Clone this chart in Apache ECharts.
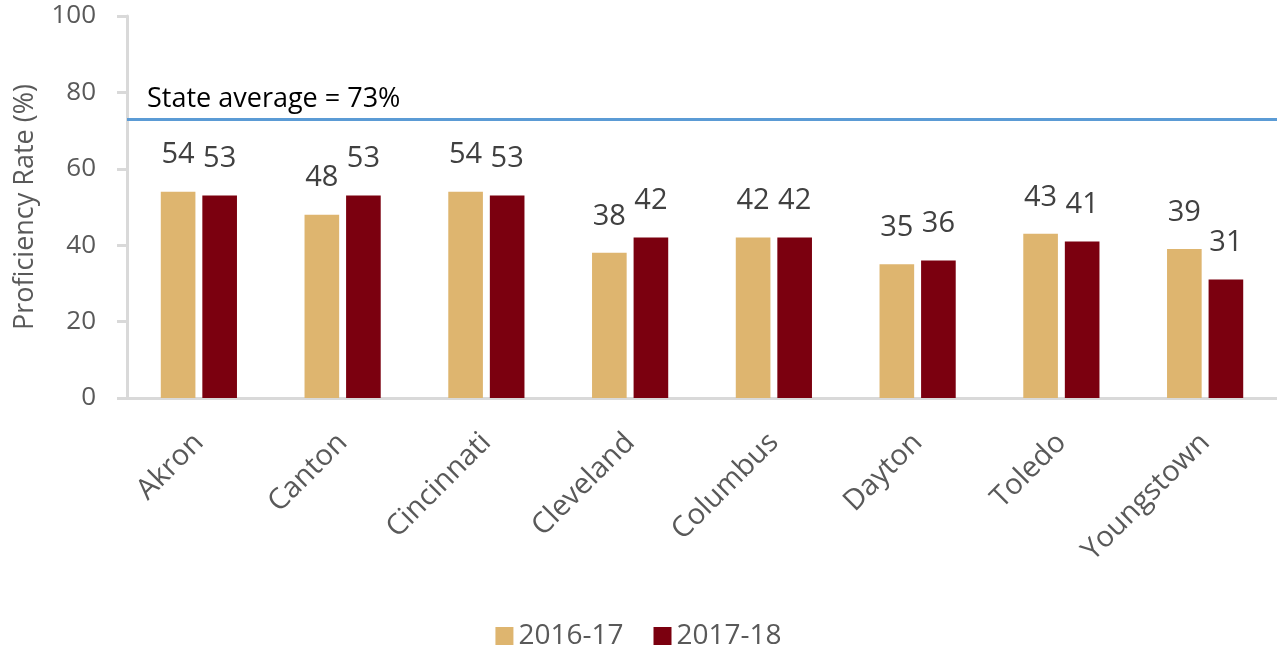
<!DOCTYPE html>
<html>
<head>
<meta charset="utf-8">
<title>Proficiency Rate by City</title>
<script src="https://cdn.jsdelivr.net/npm/echarts@6/dist/echarts.min.js"></script>
<style>
  html, body { margin: 0; padding: 0; background: #ffffff; }
  #chart { width: 1277px; height: 649px; }
</style>
</head>
<body>
<div id="chart"></div>
<script>
// Cities on the category axis
const cities = ['Akron', 'Canton', 'Cincinnati', 'Cleveland', 'Columbus', 'Dayton', 'Toledo', 'Youngstown'];
// Proficiency rates (%) per school year
const rates201617 = [54, 48, 54, 38, 42, 35, 43, 39];
const rates201718 = [53, 53, 53, 42, 42, 36, 41, 31];
// Statewide reference value (%)
const stateAverage = 73;
// Value axis ticks
const yTicks = { min: 0, max: 100, interval: 20 };

const FONT = '"Open Sans", sans-serif';
const GREY_TEXT = '#595959';
const AXIS_GREY = '#d9d9d9';

const chart = echarts.init(document.getElementById('chart'), null, { renderer: 'canvas' });

const dataLabel = {
  show: true,
  position: 'top',
  distance: 22,
  color: '#404040',
  fontSize: 29,
  fontFamily: FONT
};

chart.setOption({
  animation: false,
  backgroundColor: '#ffffff',
  textStyle: { fontFamily: FONT },
  grid: { left: 127, right: -18, top: 16, bottom: 251, containLabel: false },
  legend: {
    top: 617,
    left: 'center',
    itemWidth: 18,
    itemHeight: 18,
    itemGap: 30,
    icon: 'rect',
    textStyle: { color: GREY_TEXT, fontSize: 28, fontFamily: FONT },
    data: ['2016-17', '2017-18']
  },
  xAxis: {
    type: 'category',
    data: cities,
    axisLine: { show: true, lineStyle: { color: AXIS_GREY, width: 3 } },
    axisTick: { show: false },
    axisLabel: {
      rotate: 45,
      margin: 40,
      color: GREY_TEXT,
      fontSize: 29,
      fontFamily: FONT,
      interval: 0
    },
    splitLine: { show: false }
  },
  yAxis: {
    type: 'value',
    min: yTicks.min,
    max: yTicks.max,
    interval: yTicks.interval,
    name: 'Proficiency Rate (%)',
    nameLocation: 'middle',
    nameGap: 88,
    nameTextStyle: { color: GREY_TEXT, fontSize: 27, fontFamily: FONT },
    axisLine: { show: true, lineStyle: { color: AXIS_GREY, width: 3 } },
    axisTick: { show: true, length: 10, lineStyle: { color: AXIS_GREY, width: 3 } },
    axisLabel: { margin: 31, color: GREY_TEXT, fontSize: 26, fontFamily: FONT },
    splitLine: { show: false }
  },
  series: [
    {
      name: '2016-17',
      type: 'bar',
      data: rates201617,
      barGap: '20%',
      barCategoryGap: '47%',
      itemStyle: { color: '#deb56f' },
      label: dataLabel,
      markLine: {
        silent: true,
        symbol: 'none',
        lineStyle: { color: '#5b9bd5', width: 3, type: 'solid' },
        label: {
          show: true,
          position: 'insideStartTop',
          formatter: 'State average = ' + stateAverage + '%',
          color: '#000000',
          fontSize: 27,
          fontFamily: FONT,
          distance: [20, 6]
        },
        data: [{ yAxis: stateAverage }]
      }
    },
    {
      name: '2017-18',
      type: 'bar',
      data: rates201718,
      barGap: '20%',
      barCategoryGap: '47%',
      itemStyle: { color: '#7b000f' },
      label: dataLabel
    }
  ]
});
</script>
</body>
</html>
